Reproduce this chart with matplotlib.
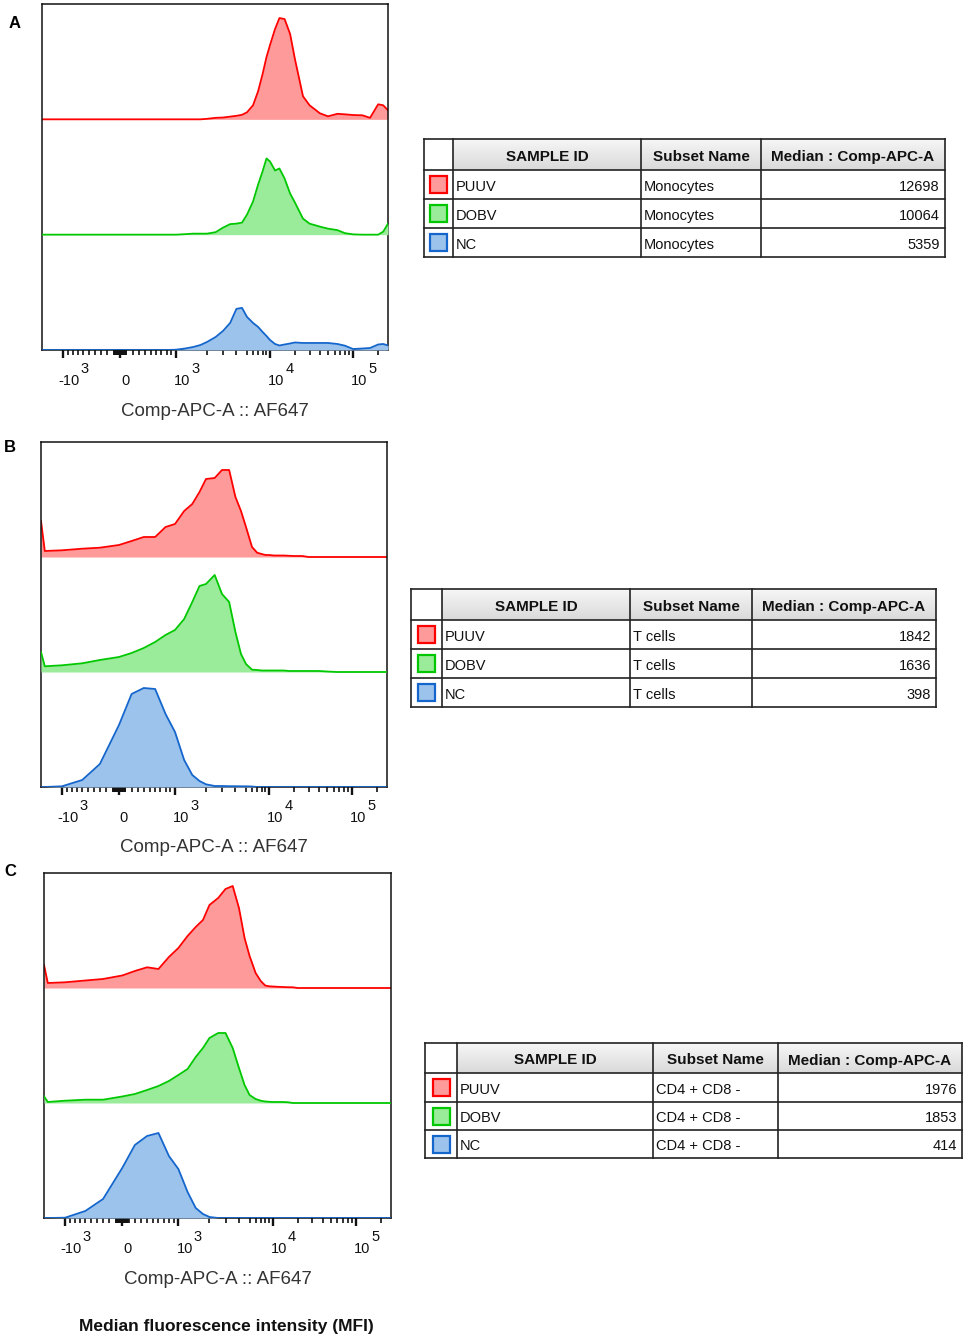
import numpy as np
import matplotlib
matplotlib.use('Agg')
import matplotlib.pyplot as plt
from matplotlib.patches import Rectangle
from matplotlib.colors import LinearSegmentedColormap
from matplotlib.transforms import ScaledTranslation, blended_transform_factory

plt.rcParams['font.family'] = ['Liberation Sans', 'DejaVu Sans']

# Comp-APC-A channel values (bin centres), shared by every histogram
bins = [-1500, -1400, -1000, -600, -300, 0, 200, 400, 600, 800,
        1000, 1250, 1500, 1750, 2000, 2500, 3000, 3500, 4000, 4500,
        5000, 6000, 7000, 8000, 9000, 10000, 11500, 13000, 15000, 17500,
        20000, 25000, 30000, 40000, 50000, 65000, 80000, 100000, 130000, 160000,
        200000, 230000, 262144]

# event counts per bin (one track = 115 counts high)
mono_puuv = [0, 0, 0, 0, 0, 0, 0, 0, 0, 0,
             0, 0, 0, 0, 0.5, 1.5, 1.8, 2.7, 3.5, 4.5,
             7, 14, 28, 45, 62, 74, 90, 101, 100, 85,
             60, 23, 14, 6, 3, 5.5, 5, 4.3, 4, 1.5,
             15, 14, 9]
mono_dobv = [0, 0, 0, 0, 0, 0, 0, 0, 0, 0,
             0, 0.5, 1, 1, 1, 2.5, 7, 10.5, 11, 12,
             20, 33, 50, 63, 76, 73, 64, 66, 56, 41,
             32, 16, 11, 8, 6, 4.5, 1.5, 0.3, 0, 0,
             0, 3, 11]
mono_nc = [0, 0, 0, 0, 0, 0, 0, 0, 0, 0,
           0.3, 1.5, 3, 5, 8, 13, 19, 27, 41, 42,
           33, 27, 23, 18, 14, 10, 6, 4.5, 5.5, 6.5,
           7.5, 7, 7, 7, 7, 6, 4.3, 1, 1.5, 2,
           5.5, 6, 4.5]

tcell_puuv = [36, 6, 6.7, 8.3, 9.3, 12, 16, 20, 20, 30,
              33, 46, 53, 65, 78, 79, 87, 87, 60, 46,
              30, 10, 4.3, 3, 2, 2, 1.5, 1.5, 1.5, 1.2,
              1, 1, 0, 0, 0, 0, 0, 0, 0, 0,
              0, 0, 0]
tcell_dobv = [20, 5.7, 6.7, 8.7, 12, 15, 19, 24, 30, 37,
              42, 53, 70, 86, 88, 97, 78, 70, 40, 18,
              8, 2.3, 2, 1.5, 1.5, 1.5, 1.5, 1.5, 1.5, 1,
              1, 1, 1, 1, 0.5, 0, 0, 0, 0, 0,
              0, 0, 0]
tcell_nc = [0, 0, 0.7, 7, 23, 62, 93, 99, 98, 73,
            55, 27, 12, 6, 2.7, 1, 1, 0.8, 0.8, 0.7,
            0.7, 0.5, 0, 0, 0, 0, 0, 0, 0, 0,
            0, 0, 0, 0, 0, 0, 0, 0, 0, 0,
            0, 0, 0]

cd4_puuv = [23, 5, 5.7, 7.5, 9, 12.5, 17, 20.7, 19, 31,
            40, 52, 61, 68, 83, 90, 99, 102, 80, 50,
            32, 15, 7, 2.5, 1.7, 1.5, 1.2, 1, 0.8, 0.7,
            0, 0, 0, 0, 0, 0, 0, 0, 0, 0,
            0, 0, 0]
cd4_dobv = [6.7, 1, 2.3, 3.3, 3.3, 6.5, 9, 13, 17, 22,
            28, 34, 46, 55, 65, 70, 70, 55, 35, 18,
            8, 4, 2.3, 1.5, 1.2, 1, 1, 1, 0.8, 0,
            0, 0, 0, 0, 0, 0, 0, 0, 0, 0,
            0, 0, 0]
cd4_nc = [0, 0, 0.3, 7, 19, 50, 73, 82, 85, 62,
          49, 26, 10, 4, 1, 0, 0, 0, 0, 0,
          0, 0, 0, 0, 0, 0, 0, 0, 0, 0,
          0, 0, 0, 0, 0, 0, 0, 0, 0, 0,
          0, 0, 0]

sample_ids = ['PUUV', 'DOBV', 'NC']
subsets = ['Monocytes', 'T cells', 'CD4 + CD8 -']
medians = [[12698, 10064, 5359], [1842, 1636, 398], [1976, 1853, 414]]
headers = ['SAMPLE ID', 'Subset Name', 'Median : Comp-APC-A']
panel_letters = ['A', 'B', 'C']

line_colors = ['#ff0000', '#00c800', '#1466cc']
fill_colors = ['#ff9a9a', '#9aeb9a', '#9cc3ec']

# axis ticks of the biexponential scale
tick_values = [-1000, 0, 1000, 10000, 100000]
tick_bases = ['-10', '0', '10', '10', '10']
tick_exps = ['3', '', '3', '4', '5']
minor_values = (list(range(-900, 0, 100)) + list(range(-90, 0, 10)) + list(range(10, 100, 10))
                + list(range(100, 1000, 100)) + list(range(2000, 10000, 1000))
                + list(range(20000, 100000, 10000)) + [200000])

# biexponential display: anchor values and their relative position along the axis
anchor_vals = np.array([-1500, -1000, 0, 1000, 2000, 3000, 5000, 1e4, 1e5, 262144])
anchor_pos = np.array([0, 21, 78, 134, 165, 181, 205, 228, 311, 346]) / 346.0
anchor_a = np.arcsinh(anchor_vals / 1000.0)


def biex_fwd(v):
    return np.interp(np.arcsinh(np.asarray(v, float) / 1000.0), anchor_a, anchor_pos)


def biex_inv(p):
    return 1000.0 * np.sinh(np.interp(np.asarray(p, float), anchor_pos, anchor_a))


W, H = 967, 1339
fig = plt.figure(figsize=(W / 100, H / 100), dpi=100)

# overlay in pixel coordinates for tables and loose text
over = fig.add_axes([0, 0, 1, 1])
over.set_xlim(0, W)
over.set_ylim(H, 0)
over.axis('off')

panels = [
    dict(box=(42, 4, 388, 350), series=[mono_puuv, mono_dobv, mono_nc],
         cols=[424, 453, 641, 761, 945], rows=[139, 170, 199, 228, 257], letter_xy=(15, 23)),
    dict(box=(41, 442, 387, 787), series=[tcell_puuv, tcell_dobv, tcell_nc],
         cols=[411, 442, 630, 752, 936], rows=[589, 620, 649, 678, 707], letter_xy=(10, 448)),
    dict(box=(44, 873, 391, 1218), series=[cd4_puuv, cd4_dobv, cd4_nc],
         cols=[425, 457, 653, 778, 962], rows=[1043, 1073, 1102, 1130, 1158], letter_xy=(10, 872)),
]

band = 115
hdr_cmap = LinearSegmentedColormap.from_list('hdr', ['#f6f6f6', '#dadada'])

for i, p in enumerate(panels):
    x0, y0, x1, y1 = p['box']
    ax = fig.add_axes([x0 / W, 1 - y1 / H, (x1 - x0) / W, (y1 - y0) / H])
    ax.set_xscale('function', functions=(biex_fwd, biex_inv))
    for k, vals in enumerate(p['series']):
        assert len(vals) == len(bins)
        base = (2 - k) * band
        y = base + np.array(vals, float)
        ax.fill_between(bins, base, y, color=fill_colors[k], lw=0, zorder=2 + k)
        ax.plot(bins, y, color=line_colors[k], lw=1.3, zorder=2.5 + k)
    ax.set_xlim(bins[0], bins[-1])
    ax.set_ylim(0, 3 * band)
    ax.set_yticks([])
    ax.set_xticks(tick_values)
    ax.set_xticklabels([])
    ax.set_xticks(minor_values, minor=True)
    ax.tick_params(axis='x', which='major', length=5.5, width=1.7, direction='out', color='#111')
    ax.tick_params(axis='x', which='minor', length=3.5, width=1.2, direction='out', color='#111')
    for s in ax.spines.values():
        s.set_linewidth(1.1)
        s.set_color('#111')

    blend = blended_transform_factory(ax.transData, ax.transAxes)
    for v, b, e in zip(tick_values, tick_bases, tick_exps):
        if b == '0':
            t = ax.text(v, 0, b, ha='center', va='center', fontsize=10.5, color='#111',
                        transform=blend + ScaledTranslation(0.05, -0.31, fig.dpi_scale_trans))
        else:
            dx = -0.05 if b.startswith('-') else -0.02
            t = ax.text(v, 0, b, ha='left', va='center', fontsize=10.5, color='#111',
                        transform=blend + ScaledTranslation(dx, -0.31, fig.dpi_scale_trans))
            ax.annotate(e, xy=(1, 0.5), xycoords=t, xytext=(1, 12), textcoords='offset pixels',
                        ha='left', va='center', fontsize=10.5, color='#111')
    ax.text(0.5, 0, 'Comp-APC-A :: AF647', ha='center', va='center', fontsize=13.5, color='#333',
            transform=ax.transAxes + ScaledTranslation(0, -0.61, fig.dpi_scale_trans))

    lx, ly = p['letter_xy']
    over.text(lx, ly, panel_letters[i], ha='center', va='center', fontsize=12, fontweight='bold')

    # stats table
    cols, rows = p['cols'], p['rows']
    over.imshow(np.linspace(0, 1, 32).reshape(-1, 1), cmap=hdr_cmap, aspect='auto',
                extent=(cols[1], cols[-1], rows[1], rows[0]), origin='upper', zorder=1)
    for c in cols:
        over.plot([c, c], [rows[0], rows[-1]], color='#222', lw=1.2, zorder=3,
                  solid_capstyle='projecting')
    for r in rows:
        over.plot([cols[0], cols[-1]], [r, r], color='#222', lw=1.2, zorder=3,
                  solid_capstyle='projecting')
    for j, h in enumerate(headers):
        over.text((cols[j + 1] + cols[j + 2]) / 2, (rows[0] + rows[1]) / 2 + 1, h,
                  ha='center', va='center_baseline', fontsize=11, fontweight='bold',
                  color='#111', zorder=4)
    for r in range(3):
        yc = (rows[r + 1] + rows[r + 2]) / 2 + 1
        sw = 17
        xc = (cols[0] + cols[1]) / 2
        over.add_patch(Rectangle((xc - sw / 2, yc - 1 - sw / 2), sw, sw, facecolor=fill_colors[r],
                                 edgecolor=line_colors[r], lw=1.6, zorder=4))
        over.text(cols[1] + 3, yc, sample_ids[r], ha='left', va='center_baseline', fontsize=10.5,
                  color='#111', zorder=4)
        over.text(cols[2] + 3, yc, subsets[i], ha='left', va='center_baseline', fontsize=10.5,
                  color='#111', zorder=4)
        over.text(cols[4] - 5, yc, str(medians[i][r]), ha='right', va='center_baseline',
                  fontsize=10.5, color='#111', zorder=4)

over.set_xlim(0, W)
over.set_ylim(H, 0)
over.text(226, 1327, 'Median fluorescence intensity (MFI)', ha='center', va='center',
          fontsize=12.5, fontweight='bold', color='#111')

fig.savefig('out.png', dpi=100)
